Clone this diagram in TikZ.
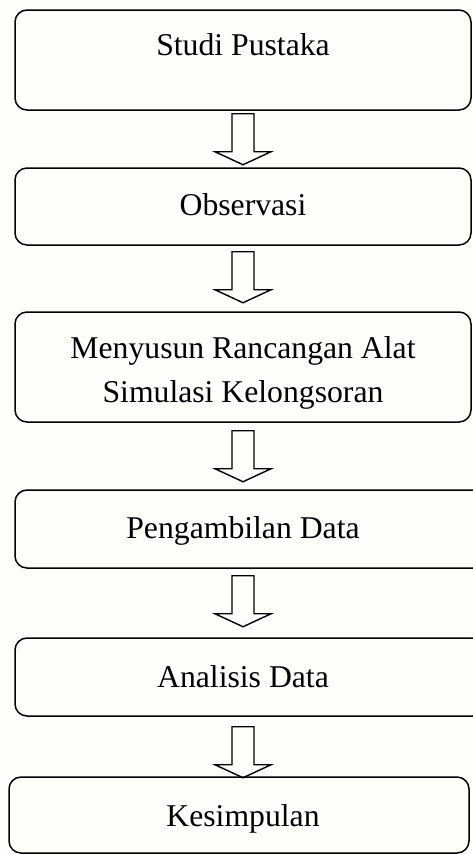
\documentclass[tikz,border=0pt]{standalone}
\usepackage{fontspec}
\setmainfont{Liberation Serif}
\usetikzlibrary{calc}
\definecolor{bgc}{RGB}{254,254,250}
\newcommand\barrowat[1]{%
  \draw[barrow] ($(#1)+(-11,0)$) -- ($(#1)+(11,0)$) -- ($(#1)+(11,38)$) -- ($(#1)+(28,38)$)
    -- ($(#1)+(0,51)$) -- ($(#1)+(-28,38)$) -- ($(#1)+(-11,38)$) -- cycle;}
\begin{document}
\begin{tikzpicture}[x=1pt,y=-1pt,
  box/.style={draw, rounded corners=12pt, line width=1.5pt, inner sep=0pt},
  lbl/.style={anchor=base, inner sep=0pt, font=\fontsize{31.7}{44}\selectfont},
  barrow/.style={draw, line width=1.4pt, line join=miter}]
\fill[bgc] (0,0) rectangle (472,854);
\useasboundingbox (0,0) rectangle (472,854);
% boxes
\node[box, minimum width=456pt, minimum height=100pt] (b1) at (243,60) {};
\node[box, minimum width=456pt, minimum height=77pt] (b2) at (243,206.5) {};
\node[box, minimum width=456pt, minimum height=110pt] (b3) at (243,367) {};
\node[box, minimum width=470pt, minimum height=78pt] (b4) at (250,529) {};
\node[box, minimum width=470pt, minimum height=78pt] (b5) at (250,677) {};
\node[box, minimum width=460pt, minimum height=76pt] (b6) at (239,815) {};
% labels
\node[lbl] (t1) at (243,55) {Studi Pustaka};
\node[lbl] (t2) at (243,215) {Observasi};
\node[lbl] (t3a) at (243,358) {Menyusun Rancangan Alat};
\node[lbl] (t3b) at (243,402) {Simulasi Kelongsoran};
\node[lbl] (t4) at (243,538) {Pengambilan Data};
\node[lbl] (t5) at (243,687) {Analisis Data};
\node[lbl] (t6) at (243,826) {Kesimpulan};
% block arrows
\coordinate (a1) at ($(b1.south)+(0,3)$);
\coordinate (a2) at ($(b2.south)+(0,6)$);
\coordinate (a3) at ($(b3.south)+(0,8)$);
\coordinate (a4) at ($(b4.south)+(-7,7)$);
\coordinate (a5) at ($(b5.south)+(-7,10)$);
\barrowat{a1}
\barrowat{a2}
\barrowat{a3}
\barrowat{a4}
\barrowat{a5}
\end{tikzpicture}
\end{document}
